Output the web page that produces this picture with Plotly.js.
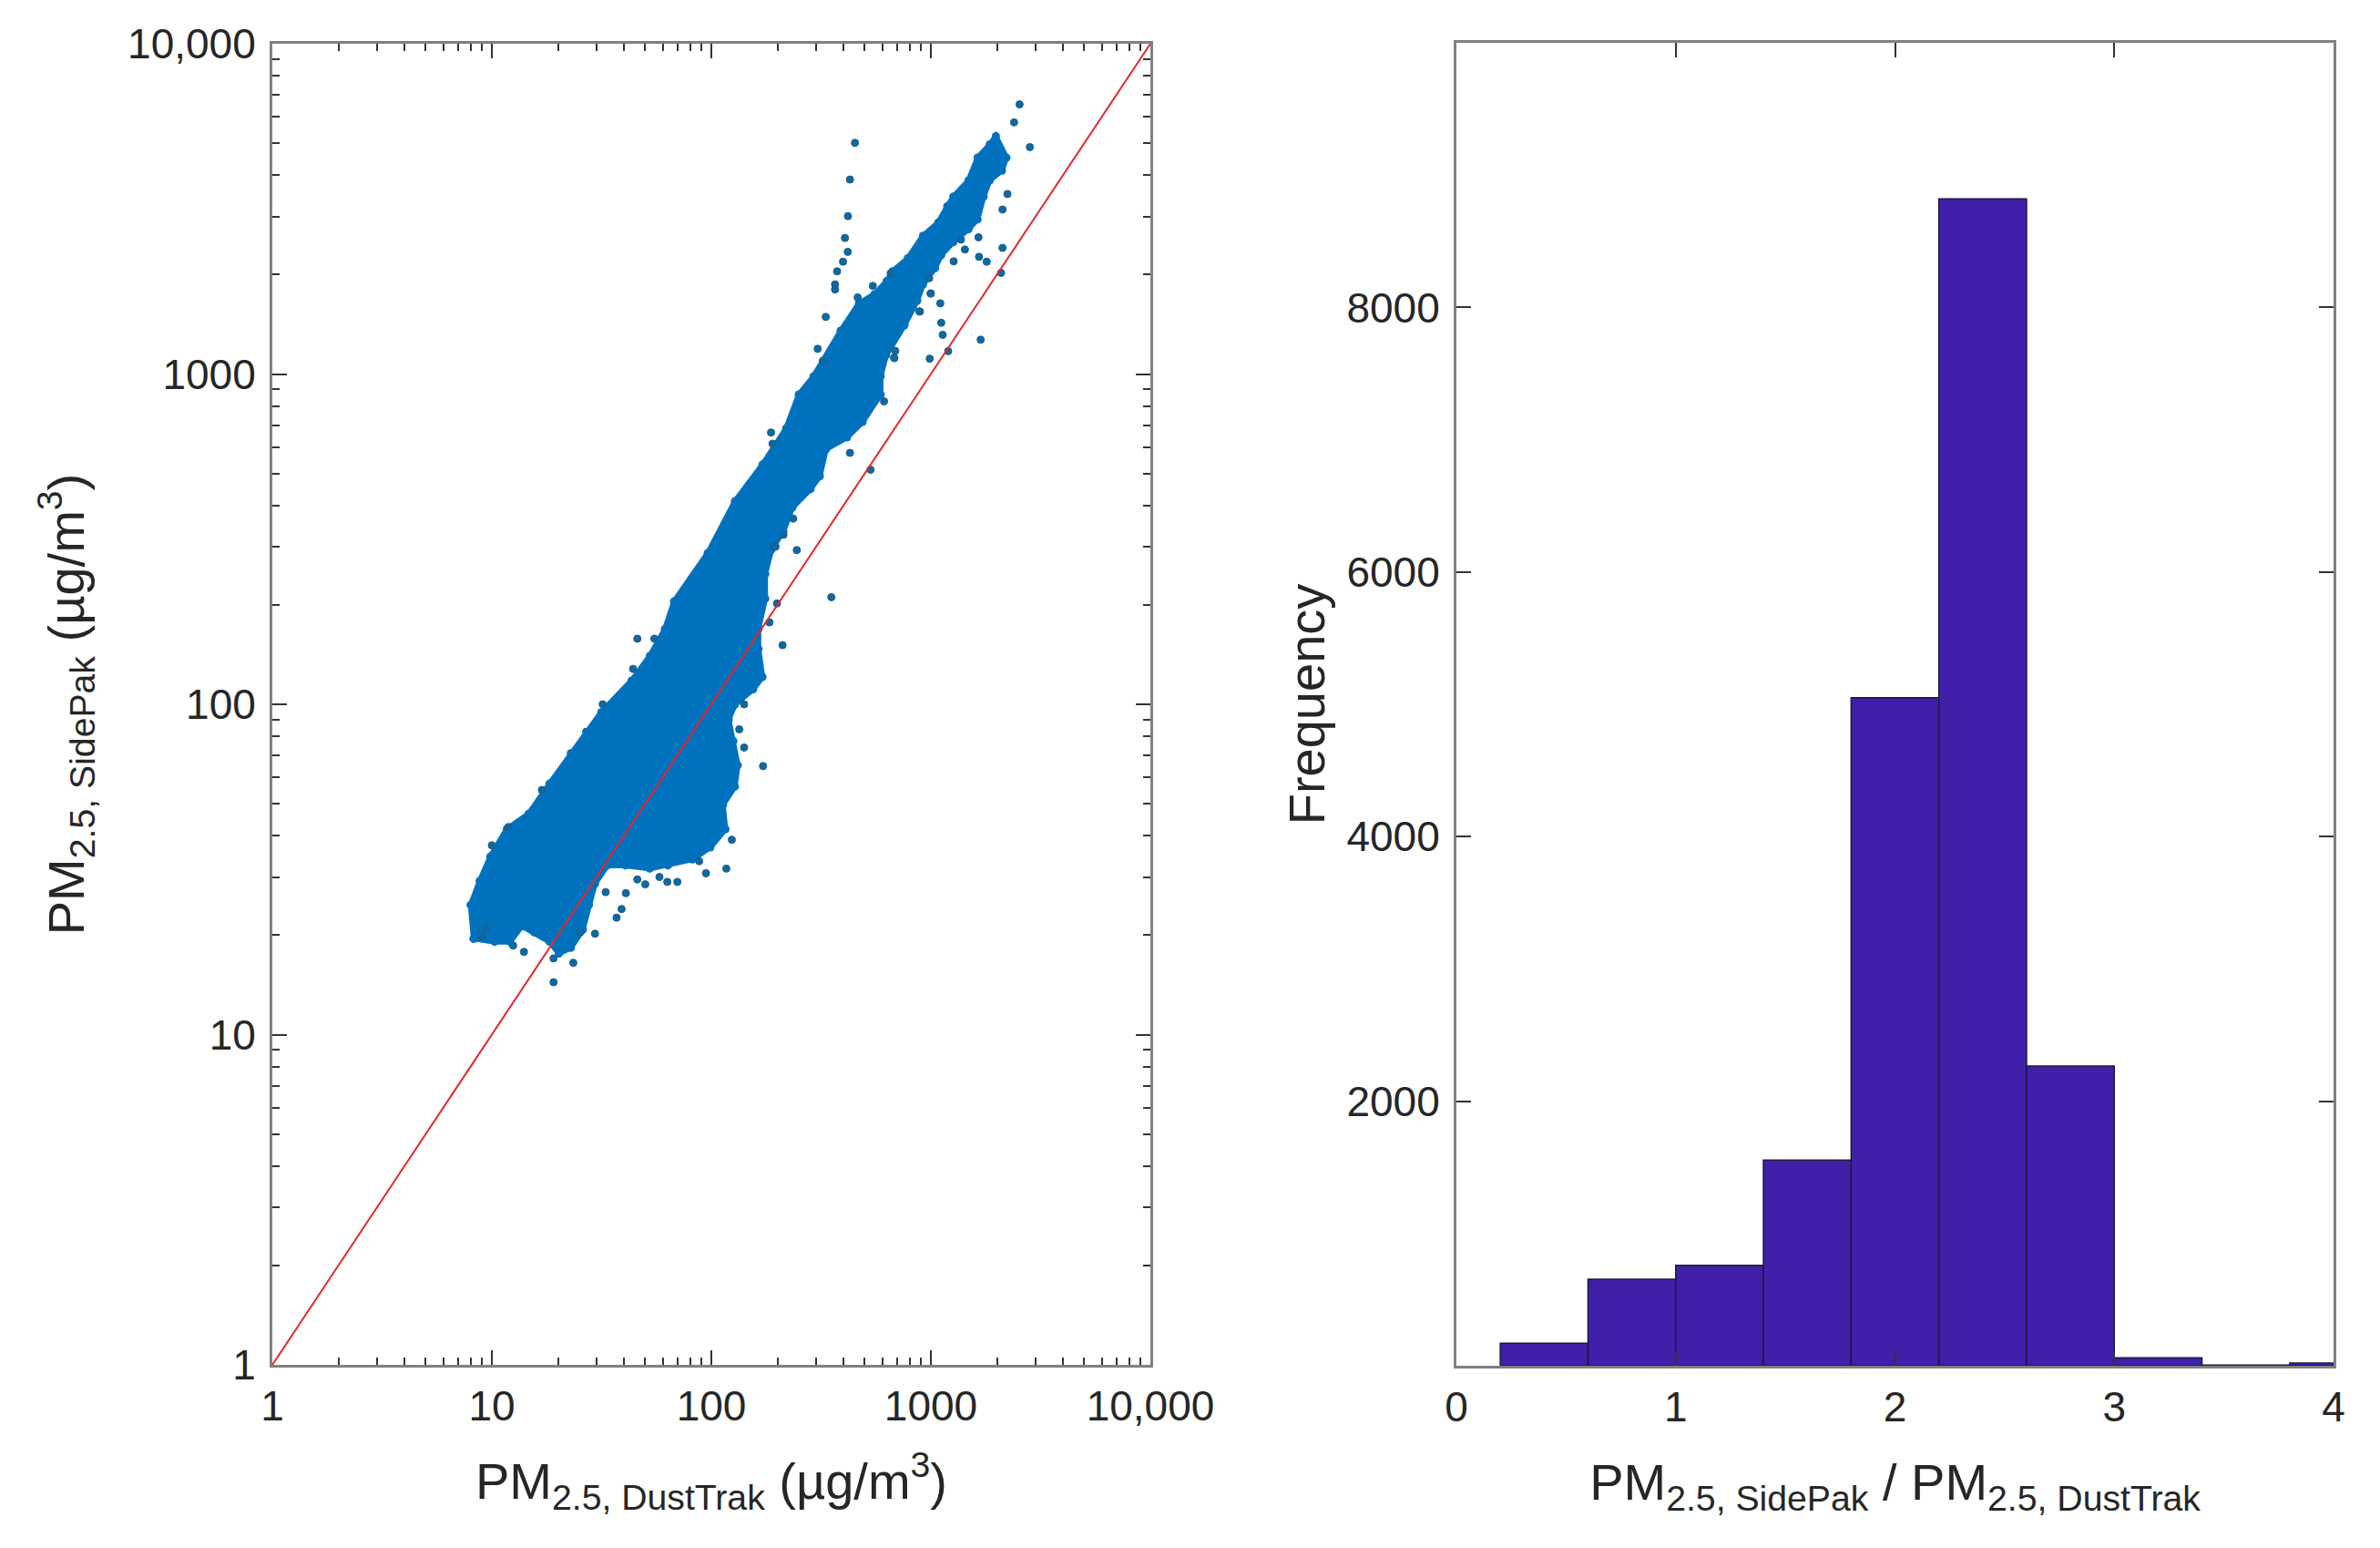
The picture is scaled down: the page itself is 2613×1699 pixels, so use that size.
<!DOCTYPE html>
<html>
<head>
<meta charset="utf-8">
<script src="https://cdn.plot.ly/plotly-3.0.1.min.js"></script>
<style>html,body{margin:0;padding:0;background:#fff;}#chart{width:2613px;height:1699px;}</style>
</head>
<body>
<div id="chart"></div>
<script>
// ---- Scatter panel data (PM2.5 DustTrak vs SidePak, µg/m3) ----
// Outline of the dense point cloud (x = DustTrak, y = SidePak)
var cloudX = [8.26,8.0,8.8,9.84,11.7,14.7,18.3,22.9,26.9,31.5,43.3,52.4,61.4,67.6,
  96.2,128,171,219,250,292,388,470,
  553,629,669,785,921,1080,1188,1266,1484,1632,1855,1977,2210,
  2108,1855,1740,1632,1484,1266,1115,1045,921,
  867,758,626,591,591,489,415,333,312,283,234,213,188,176,176,164,164,171,
  155,128,120,126,132,128,113,116,99,82,63.4,52.4,40.6,33.6,29.5,27.7,26.0,22.9,20.2,18.3,15.6,13.7,12.1,10.3,8.26];
var cloudY = [19.5,24.7,29.2,34.6,41.9,46.6,57.5,71.1,82.5,94.6,118,140,169,205,
  287,412,532,685,867,984,1352,1637,
  1744,1911,2046,2240,2624,2875,3222,3446,3857,4520,4955,5248,4520,
  4130,3857,3446,2940,2746,2508,2291,2093,1867,
  1667,1405,1140,984,867,716,643,592,490,448,394,334,294,248,209,169,147,121,
  111,99.8,89.8,77.4,65.4,56.3,49.6,41.9,36.9,33.9,32.5,31.8,32.5,32.5,28.6,24.7,20.8,18.3,17.6,19.1,20.4,21.3,19.1,19.1,19.5];
// Individual scattered points outside / along the edge of the dense cloud
var ptX = [352,211,184,199,172,117,94.5,46,55,44,32,16.9,11.9,10,19.1,19.1,141,141,124,63,46,37,39,29.5,25.3,40.8,134,
  2535,2393,2825,451,428,419,406,418,398,374,366,366,464,544,332,305,322,187,190,428,531,
  1686,1199,988,1132,1115,1104,997,886,680,612,2088,2120,1796,1658,1429,1648,2233,2120,236,245,193,213,196,
  9.0,9.4,12.5,14.0,23.5,33,50,58,70,88,
  656,891,1000,682,1371,1270,982,688];
var ptY = [211,151,177,202,65,31.8,30.8,158,158,128,100,55,42.5,37.4,14.4,17,100,74,38.9,29,29.5,22.6,24,20.2,20.4,26.8,84,
  6550,5780,4864,5012,3880,3006,2582,2344,2188,2046,1868,1803,1706,1848,1489,1192,1096,665,615,577,513,
  1270,1173,1113,1314,1429,1637,1753,1548,1121,826,2023,2409,2188,2264,2382,2594,3508,3148,365,293,301,326,300,
  19.8,21.0,18.6,17.8,16.5,27.0,28.5,30.0,29.0,33.5,
  2018,1545,1754,1117,2553,2193,1950,1175];
// 1:1 reference line
var lineX = [1, 10000];
var lineY = [1, 10000];
// Axis ticks
var logTickVals = [1, 10, 100, 1000, 10000];
var logTickText = ['1', '10', '100', '1000', '10,000'];
var logMinorVals = [2,3,4,5,6,7,8,9,20,30,40,50,60,70,80,90,200,300,400,500,600,700,800,900,2000,3000,4000,5000,6000,7000,8000,9000];

// ---- Histogram panel data (ratio SidePak / DustTrak) ----
var binStart = [0.2, 0.6, 1.0, 1.4, 1.8, 2.2, 2.6, 3.0, 3.4, 3.8];
var binWidth = 0.4;
var binCount = [170, 655, 760, 1555, 5050, 8820, 2265, 60, 5, 20];
var histXTicks = [0, 1, 2, 3, 4];
var histYTicks = [2000, 4000, 6000, 8000];

var FONT = '"Liberation Sans", Arial, Helvetica, sans-serif';
var TXT = '#262626';
var AXC = '#808080';

var traces = [
  {type:'scatter', mode:'lines+markers', x:cloudX, y:cloudY, fill:'toself', fillcolor:'#0072BD',
   line:{color:'#0072BD', width:6}, marker:{size:9, color:'#0072BD'},
   xaxis:'x', yaxis:'y', hoverinfo:'skip', showlegend:false},
  {type:'scatter', mode:'markers', x:ptX, y:ptY, xaxis:'x', yaxis:'y', showlegend:false,
   marker:{size:8, color:'#0a6aa6', line:{color:'#285a80', width:1}}},
  {type:'scatter', mode:'lines', x:lineX, y:lineY, xaxis:'x', yaxis:'y', showlegend:false,
   line:{color:'#e0282c', width:2}},
  {type:'bar', x:binStart, y:binCount, width:binWidth, offset:0, xaxis:'x2', yaxis:'y2', showlegend:false,
   marker:{color:'#4020a8', line:{color:'#1c1a3c', width:1.5}}}
];

function baseAxis(extra){
  var a = {showgrid:false, zeroline:false, showline:true, linecolor:AXC, linewidth:3, mirror:'ticks',
    ticks:'inside', ticklen:16, tickwidth:2, tickcolor:'#333333',
    tickfont:{family:FONT, size:46, color:TXT}};
  for (var k in extra) a[k] = extra[k];
  return a;
}

var layout = {
  width:2613, height:1699,
  margin:{l:0, r:0, t:0, b:0},
  paper_bgcolor:'#ffffff', plot_bgcolor:'#ffffff',
  font:{family:FONT, color:TXT},
  showlegend:false,
  xaxis: baseAxis({type:'log', domain:[299/2613, 1263/2613], range:[0,4], anchor:'y',
    tickmode:'array', tickvals:logTickVals, ticktext:logTickText, ticklabelstandoff:3,
    minor:{tickmode:'array', tickvals:logMinorVals, ticks:'inside', ticklen:8, tickwidth:2, tickcolor:'#333333'},
    title:{text:'PM<sub>2.5, DustTrak</sub> (µg/m<sup>3</sup>)', font:{family:FONT, size:56, color:TXT}, standoff:38}}),
  yaxis: baseAxis({type:'log', domain:[1-1498/1699, 1-48/1699], range:[0,4], anchor:'x',
    tickmode:'array', tickvals:logTickVals, ticktext:logTickText, ticklabelstandoff:6,
    minor:{tickmode:'array', tickvals:logMinorVals, ticks:'inside', ticklen:8, tickwidth:2, tickcolor:'#333333'},
    title:{text:'PM<sub>2.5, SidePak</sub> (µg/m<sup>3</sup>)', font:{family:FONT, size:56, color:TXT}, standoff:30}}),
  xaxis2: baseAxis({domain:[1599/2613, 2562/2613], range:[0,4], anchor:'y2',
    tickmode:'array', tickvals:histXTicks, ticklabelstandoff:3,
    title:{text:'PM<sub>2.5, SidePak</sub> / PM<sub>2.5, DustTrak</sub>', font:{family:FONT, size:56, color:TXT}, standoff:38}}),
  yaxis2: baseAxis({domain:[1-1499/1699, 1-47/1699], range:[0,10000], anchor:'x2',
    tickmode:'array', tickvals:histYTicks, ticklabelstandoff:6,
    title:{text:'Frequency', font:{family:FONT, size:56, color:TXT}, standoff:6}})
};

Plotly.newPlot('chart', traces, layout, {staticPlot:true, displayModeBar:false});
</script>
</body>
</html>
